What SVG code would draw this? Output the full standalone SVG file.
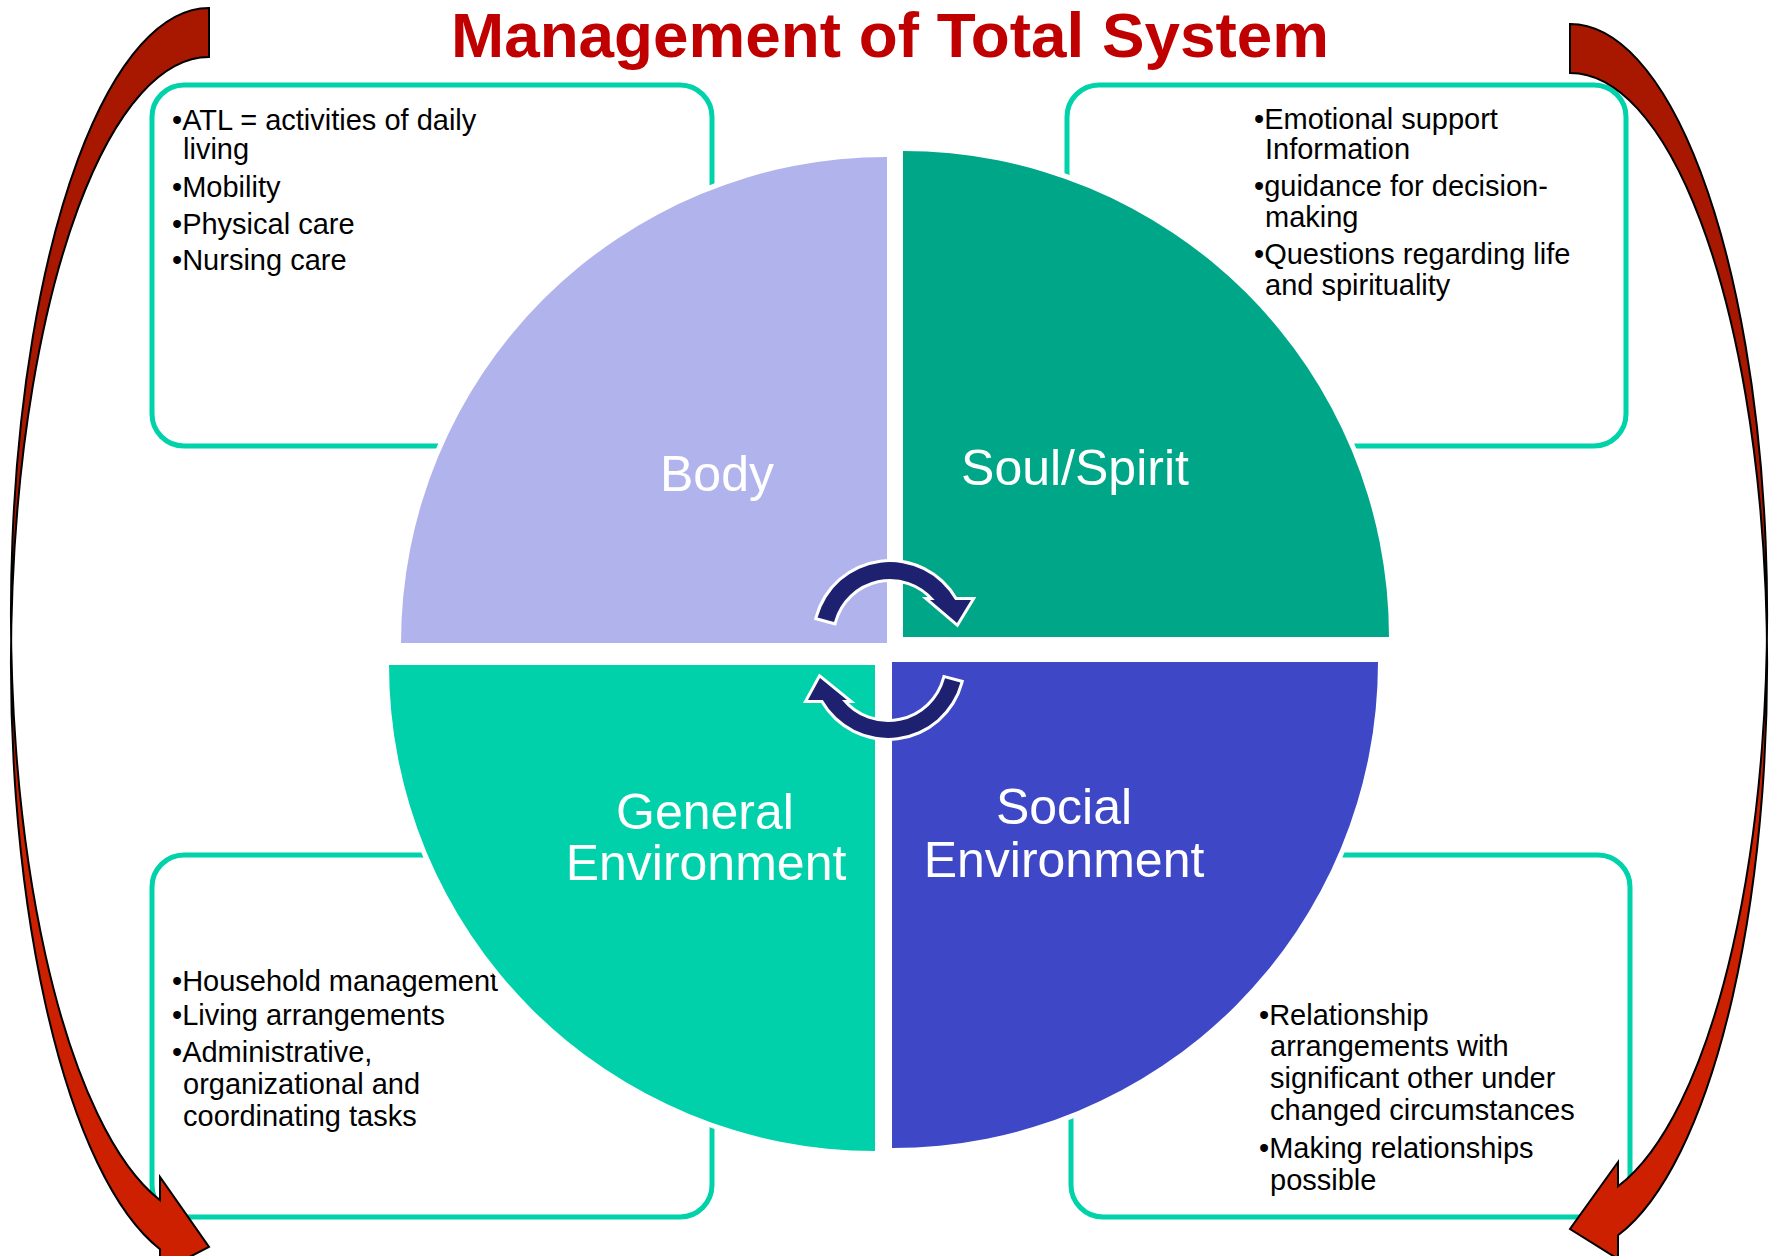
<svg xmlns="http://www.w3.org/2000/svg" width="1769" height="1256" viewBox="0 0 1769 1256">
<style>
.box{fill:none;stroke:#00D2AA;stroke-width:5}
.bt{font-family:"Liberation Sans",Arial,sans-serif;font-size:29px;fill:#000}
.lbl{font-family:"Liberation Sans",Arial,sans-serif;font-size:50px;fill:#fff;text-anchor:middle}
.q{stroke:#fff;stroke-width:10;paint-order:stroke;stroke-linejoin:miter}
.ca{fill:#1E2170;stroke:#fff;stroke-width:6;paint-order:stroke;stroke-linejoin:miter}
.back{fill:#A81800}
.front{fill:#CC2000}
.ol{fill:none;stroke:#000;stroke-width:2;stroke-linejoin:miter}
.title{font-family:"Liberation Sans",Arial,sans-serif;font-size:63px;font-weight:bold;fill:#C00000;text-anchor:middle}
</style>
<rect width="1769" height="1256" fill="#fff"/>

<g id="box-body">
<rect class="box" x="152" y="85" width="560" height="361" rx="32" ry="32"/>
<text class="bt"><tspan x="172" y="130">•ATL = activities of daily</tspan><tspan x="183" y="159">living</tspan><tspan x="172" y="197">•Mobility</tspan><tspan x="172" y="234">•Physical care</tspan><tspan x="172" y="270">•Nursing care</tspan></text>
</g>
<g id="box-soul">
<rect class="box" x="1067" y="85" width="559" height="361" rx="32" ry="32"/>
<text class="bt"><tspan x="1254" y="129">•Emotional support</tspan><tspan x="1265" y="159">Information</tspan><tspan x="1254" y="196">•guidance for decision-</tspan><tspan x="1265" y="227">making</tspan><tspan x="1254" y="264">•Questions regarding life</tspan><tspan x="1265" y="295">and spirituality</tspan></text>
</g>
<g id="box-general">
<rect class="box" x="152" y="855" width="560" height="362" rx="32" ry="32"/>
<text class="bt"><tspan x="172" y="991">•Household management</tspan><tspan x="172" y="1025">•Living arrangements</tspan><tspan x="172" y="1062">•Administrative,</tspan><tspan x="183" y="1094">organizational and</tspan><tspan x="183" y="1126">coordinating tasks</tspan></text>
</g>
<g id="box-social">
<rect class="box" x="1071" y="855" width="559" height="362" rx="32" ry="32"/>
<text class="bt"><tspan x="1259" y="1025">•Relationship</tspan><tspan x="1270" y="1056">arrangements with</tspan><tspan x="1270" y="1088">significant other under</tspan><tspan x="1270" y="1120">changed circumstances</tspan><tspan x="1259" y="1158">•Making relationships</tspan><tspan x="1270" y="1190">possible</tspan></text>
</g>

<g id="quad-body">
<path class="q" fill="#B1B4EC" d="M887 643 L401 643 A486 486 0 0 1 887 157 Z"/>
<text class="lbl" x="717" y="491">Body</text>
</g>
<g id="quad-soul">
<path class="q" fill="#00A688" d="M903 637 L903 151 A486 486 0 0 1 1389 637 Z"/>
<text class="lbl" x="1075" y="485">Soul/Spirit</text>
</g>
<g id="quad-social">
<path class="q" fill="#3E47C6" d="M892 662 L1378 662 A486 486 0 0 1 892 1148 Z"/>
<text class="lbl" x="1064" y="824">Social</text>
<text class="lbl" x="1064" y="877">Environment</text>
</g>
<g id="quad-general">
<path class="q" fill="#00D1AB" d="M875 665 L875 1151 A486 486 0 0 1 389 665 Z"/>
<text class="lbl" x="705" y="829">General</text>
<text class="lbl" x="706" y="880">Environment</text>
</g>

<g id="connectors">
<path class="ca" d="M834 622 L817.6 617.6 A75 75 0 0 1 955.2 600 L971 600 L957 623 L930 600 L934.7 600 A58 58 0 0 0 834 622 Z"/>
<path class="ca" d="M945 678.3 L960.4 682.4 A75 75 0 0 1 822.8 700 L808 700 L820 678 L847 700 L842 700 A59 59 0 0 0 945 678.3 Z"/>
<g id="arrow-left">
<path class="front" d="M11.16 638 A198 605.5 0 0 0 160 1200.2 L160 1177 L209 1247 L160 1272 L160 1249.2 A198 605.5 0 0 1 11.16 638 Z"/>
<path class="back" d="M209 8 A198 605.5 0 0 0 11.16 638 A198 605.5 0 0 1 209 57 Z"/>
<path class="ol" d="M209 8 A198 605.5 0 0 0 160 1200.2 L160 1177 L209 1247 L160 1272 L160 1249.2 A198 605.5 0 0 1 209 57 Z"/>
</g>
<g id="arrow-right">
<path class="front" d="M1766.83 638.5 A197 590 0 0 1 1618 1186.3 L1618 1162 L1570 1229 L1618 1259 L1618 1235.3 A197 590 0 0 0 1766.83 638.5 Z"/>
<path class="back" d="M1570 24 A197 590 0 0 1 1766.83 638.5 A197 590 0 0 0 1570 73 Z"/>
<path class="ol" d="M1570 24 A197 590 0 0 1 1618 1186.3 L1618 1162 L1570 1229 L1618 1259 L1618 1235.3 A197 590 0 0 0 1570 73 Z"/>
</g>
</g>

<g id="title">
<text class="title" x="890" y="57" textLength="878" lengthAdjust="spacingAndGlyphs">Management of Total System</text>
</g>
</svg>
